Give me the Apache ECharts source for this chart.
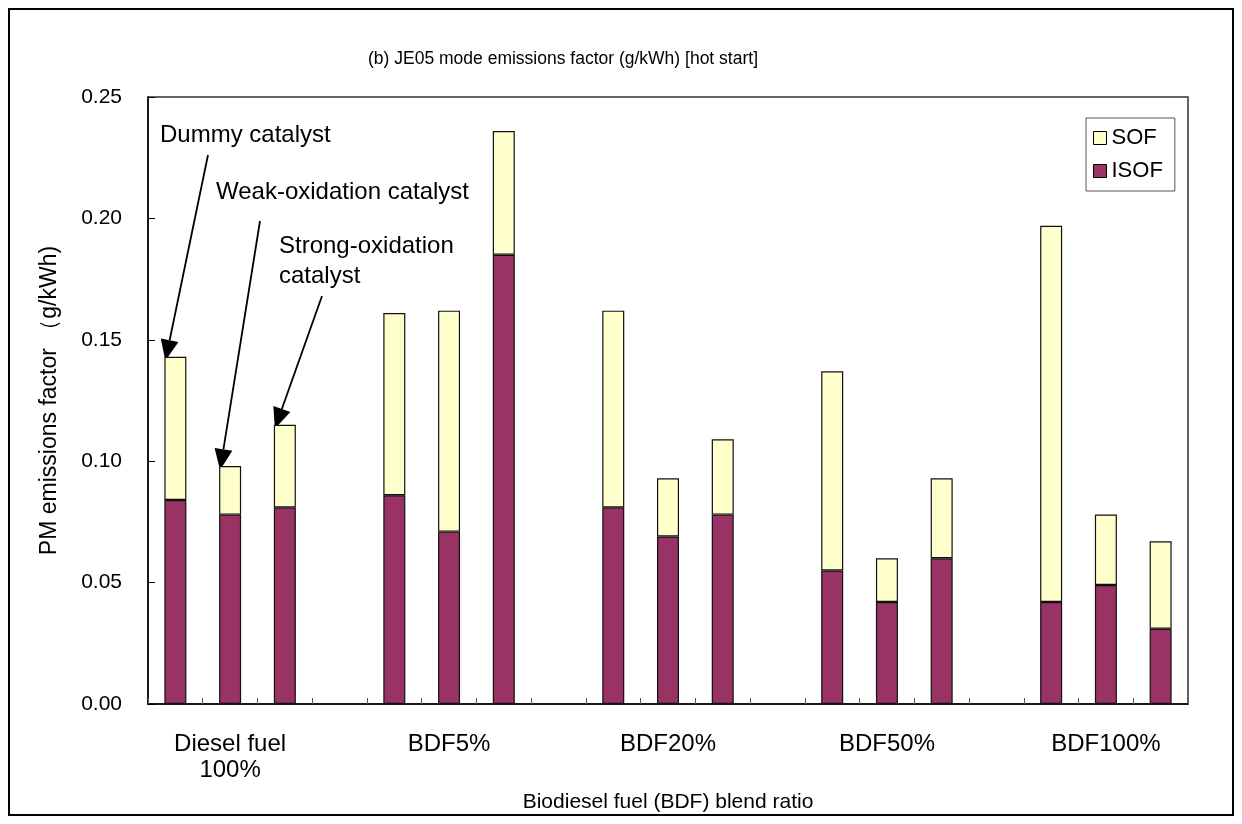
<!DOCTYPE html>
<html>
<head>
<meta charset="utf-8">
<script src="https://cdn.jsdelivr.net/npm/echarts@6/dist/echarts.min.js"></script>
<style>
html,body{margin:0;padding:0;background:#fff;}
#chart{width:1242px;height:824px;}
</style>
</head>
<body>
<div id="chart"></div>
<script>
// ---- data ----
// 19 slots: 3 catalysts per fuel, with an empty slot between fuel groups
var categories = ['', 'Diesel fuel\n100%', '', '', '', 'BDF5%', '', '', '', 'BDF20%', '', '', '', 'BDF50%', '', '', '', 'BDF100%', ''];
// total PM per bar (null = gap slot)
var totalPM = [0.143, 0.098, 0.115, null, 0.161, 0.162, 0.236, null, 0.162, 0.093, 0.109, null, 0.137, 0.060, 0.093, null, 0.197, 0.078, 0.067];
var isofValues = [0.084, 0.078, 0.081, null, 0.086, 0.071, 0.185, null, 0.081, 0.069, 0.078, null, 0.055, 0.042, 0.060, null, 0.042, 0.049, 0.031];
var sofValues = totalPM.map(function (t, i) { return t == null ? '-' : +(t - isofValues[i]).toFixed(3); });
var isofData = isofValues.map(function (v) { return v == null ? '-' : v; });
var yTicks = [0, 0.05, 0.10, 0.15, 0.20, 0.25];

var FONT = '"Liberation Sans", Arial, sans-serif';
var chart = echarts.init(document.getElementById('chart'));

var option = {
  backgroundColor: '#fff',
  animation: false,
  title: {
    text: '(b) JE05 mode emissions factor (g/kWh) [hot start]',
    left: 558, top: 45, textAlign: 'center',
    textStyle: { fontFamily: FONT, fontSize: 17.5, fontWeight: 'normal', color: '#000' }
  },
  legend: {
    orient: 'vertical',
    left: 1086, top: 118,
    width: 90,
    padding: [9, 12, 9, 7],
    itemGap: 11,
    itemWidth: 13, itemHeight: 13,
    borderColor: '#555', borderWidth: 1,
    data: [
      { name: 'SOF', icon: 'rect', itemStyle: { color: '#FFFFCC', borderColor: '#000', borderWidth: 1 } },
      { name: 'ISOF', icon: 'rect', itemStyle: { color: '#993366', borderColor: '#000', borderWidth: 1 } }
    ],
    textStyle: { fontFamily: FONT, fontSize: 22, color: '#000', padding: [0, 0, 0, 0] }
  },
  grid: {
    left: 148, right: 54, top: 97, bottom: 120,
    show: true, borderColor: '#333', borderWidth: 1.5, backgroundColor: 'transparent'
  },
  xAxis: {
    type: 'category',
    data: categories,
    boundaryGap: true,
    name: 'Biodiesel fuel (BDF) blend ratio',
    nameLocation: 'middle',
    nameGap: 88,
    nameTextStyle: { fontFamily: FONT, fontSize: 21, color: '#000' },
    axisLine: { lineStyle: { color: '#000', width: 1.5 } },
    axisTick: { show: true, inside: true, length: 6, interval: 0, lineStyle: { color: '#555' } },
    axisLabel: { interval: 0, margin: 27, fontFamily: FONT, fontSize: 24, color: '#000', lineHeight: 26 },
    splitLine: { show: false }
  },
  yAxis: {
    type: 'value',
    min: 0, max: 0.25, interval: 0.05,
    name: 'PM emissions factor （g/kWh)',
    nameLocation: 'middle',
    nameRotate: 90,
    nameGap: 87,
    nameTextStyle: { fontFamily: FONT, fontSize: 23, color: '#000' },
    axisLine: { show: true, lineStyle: { color: '#000', width: 1.5 } },
    axisTick: { show: true, inside: true, length: 7, lineStyle: { color: '#000' } },
    axisLabel: {
      margin: 26, fontFamily: FONT, fontSize: 21, color: '#000',
      formatter: function (v) { return v.toFixed(2); }
    },
    splitLine: { show: false }
  },
  series: [
    {
      name: 'ISOF', type: 'bar', stack: 'pm', barWidth: 22,
      data: isofData,
      itemStyle: { color: '#993366', borderColor: '#111', borderWidth: 1.2 }
    },
    {
      name: 'SOF', type: 'bar', stack: 'pm', barWidth: 22,
      data: sofValues,
      itemStyle: { color: '#FFFFCC', borderColor: '#111', borderWidth: 1.2 }
    }
  ]
};
chart.setOption(option);

// ---- annotations (text + arrows pointing to the first group's bars) ----
var annotations = [
  { text: 'Dummy catalyst', x: 160, y: 135, from: [208, 155], slot: 0 },
  { text: 'Weak-oxidation catalyst', x: 216, y: 192, from: [260, 221], slot: 1 },
  { text: 'Strong-oxidation\ncatalyst', x: 279, y: 261, from: [322, 296], slot: 2 }
];
var els = [
  { type: 'rect', shape: { x: 9, y: 9, width: 1224, height: 806 }, style: { fill: 'none', stroke: '#000', lineWidth: 2 }, silent: true }
];
annotations.forEach(function (a) {
  var p = chart.convertToPixel({ gridIndex: 0 }, [a.slot, totalPM[a.slot]]);
  var tip = [p[0] - 10, p[1] + 4];
  var dx = tip[0] - a.from[0], dy = tip[1] - a.from[1];
  var len = Math.sqrt(dx * dx + dy * dy);
  var ux = dx / len, uy = dy / len;
  var hl = 21, hw = 9;
  var base = [tip[0] - ux * hl, tip[1] - uy * hl];
  els.push({ type: 'text', x: a.x, y: a.y, style: { text: a.text, font: '24px ' + FONT, fill: '#000', textVerticalAlign: 'middle', lineHeight: 30 } });
  els.push({ type: 'line', shape: { x1: a.from[0], y1: a.from[1], x2: base[0], y2: base[1] }, style: { stroke: '#000', lineWidth: 1.8 } });
  els.push({ type: 'polygon', shape: { points: [tip, [base[0] - uy * hw, base[1] + ux * hw], [base[0] + uy * hw, base[1] - ux * hw]] }, style: { fill: '#000' } });
});
chart.setOption({ graphic: { elements: els } });
</script>
</body>
</html>
